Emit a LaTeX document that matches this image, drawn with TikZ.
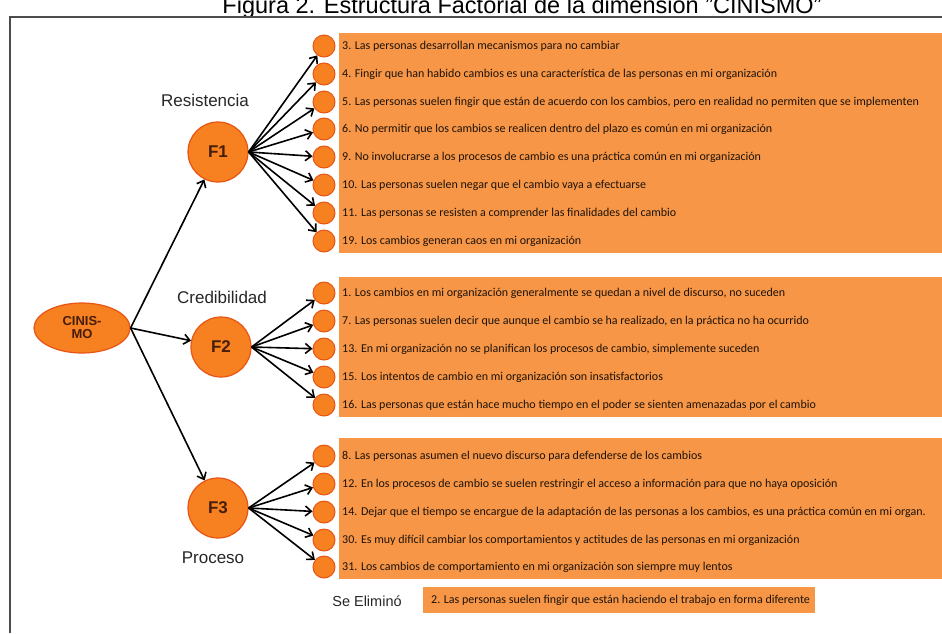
\documentclass[tikz,border=0pt]{standalone}
\usepackage{fontspec}
\setmainfont{Liberation Sans}
\newfontfamily\itemfont{Carlito}
\usetikzlibrary{arrows.meta, positioning, shapes.geometric}
\definecolor{boxfill}{RGB}{247,150,70}
\definecolor{circfill}{RGB}{247,128,32}
\definecolor{circdraw}{RGB}{232,84,20}
\definecolor{nodetext}{RGB}{70,30,10}

\begin{document}
\begin{tikzpicture}[x=1pt, y=-1pt,
    factor/.style={circle, draw=circdraw, line width=1.2pt, fill=circfill, minimum size=60pt, inner sep=0pt, font=\fontsize{17}{17}\selectfont\bfseries, text=nodetext},
    itemdot/.style={circle, draw=circdraw, line width=1pt, fill=circfill, minimum size=22pt, inner sep=0pt},
    itemtext/.style={anchor=west, inner sep=0pt, font=\itemfont\fontsize{12}{12}\selectfont, text=black!85!brown},
    factorname/.style={font=\fontsize{17}{17}\selectfont, text=black!85},
    grpbox/.style={fill=boxfill},
    line/.style={draw, -{Straight Barb[length=6pt, width=10pt, line width=1.6pt]}, line width=1.6pt}
]
    \useasboundingbox (0,0) rectangle (942,633);
    \node[font=\fontsize{23.5}{23.5}\selectfont, anchor=base] (title) at (522,13) {Figura 2. Estructura Factorial de la dimensión "CINISMO"};
    \draw[line width=1.5pt, black!70] (10,633) -- (10,17) -- (942,17);

    % bloques de items
    \fill[grpbox] (339,33) rectangle (942,253);
    \fill[grpbox] (339,277) rectangle (942,417);
    \fill[grpbox] (339,438) rectangle (942,579);
    \fill[grpbox] (423,587) rectangle (815,613);

    \node[ellipse, draw=circdraw, line width=1.2pt, fill=circfill, minimum width=96pt, minimum height=50pt, inner sep=0pt, align=center, font=\fontsize{13}{13}\selectfont\bfseries, text=nodetext] (cin) at (82,328) {CINIS-\\MO};

    \node[factor] (F1) at (218,152) {F1};
    \node[factor] (F2) at (221,347) {F2};
    \node[factor] (F3) at (218,508) {F3};

    \node[factorname] (res) at (205,100) {Resistencia};
    \node[factorname] (cred) at (222,297) {Credibilidad};
    \node[factorname] (proc) at (213,558) {Proceso};
    \node[font=\fontsize{14.5}{14.5}\selectfont, text=black!85] (elim) at (367,601) {Se Eliminó};

    \foreach \n/\y/\txt in {
        3/46/{3. Las personas desarrollan mecanismos para no cambiar},
        4/74/{4. Fingir que han habido cambios es una característica de las personas en mi organización},
        5/102/{5. Las personas suelen fingir que están de acuerdo con los cambios, pero en realidad no permiten que se implementen},
        6/129/{6. No permitir que los cambios se realicen dentro del plazo es común en mi organización},
        9/157/{9. No involucrarse a los procesos de cambio es una práctica común en mi organización},
        10/185/{10. Las personas suelen negar que el cambio vaya a efectuarse},
        11/213/{11. Las personas se resisten a comprender las finalidades del cambio},
        19/241/{19. Los cambios generan caos en mi organización},
        1/293/{1. Los cambios en mi organización generalmente se quedan a nivel de discurso, no suceden},
        7/321/{7. Las personas suelen decir que aunque el cambio se ha realizado, en la práctica no ha ocurrido},
        13/349/{13. En mi organización no se planifican los procesos de cambio, simplemente suceden},
        15/377/{15. Los intentos de cambio en mi organización son insatisfactorios},
        16/405/{16. Las personas que están hace mucho tiempo en el poder se sienten amenazadas por el cambio},
        8/456/{8. Las personas asumen el nuevo discurso para defenderse de los cambios},
        12/484/{12. En los procesos de cambio se suelen restringir el acceso a información para que no haya oposición},
        14/512/{14. Dejar que el tiempo se encargue de la adaptación de las personas a los cambios, es una práctica común en mi organ.},
        30/540/{30. Es muy difícil cambiar los comportamientos y actitudes de las personas en mi organización},
        31/567/{31. Los cambios de comportamiento en mi organización son siempre muy lentos}}
    {
        \node[itemdot] (q\n) at (324,\y) {};
        \node[itemtext] (t\n) at (342,\y) {\txt};
    }
    \node[itemtext] (t2) at (431,600) {2. Las personas suelen fingir que están haciendo el trabajo en forma diferente};

    \path[line] (cin.east) -- (F1);
    \path[line] (cin.east) -- (F2);
    \path[line] (cin.east) -- (F3);
    \foreach \n in {3,4,5,6,9,10,11,19}
        \path[line] (F1.east) -- (q\n);
    \foreach \n in {1,7,13,15,16}
        \path[line] (F2.east) -- (q\n);
    \foreach \n in {8,12,14,30,31}
        \path[line] (F3.east) -- (q\n);
\end{tikzpicture}
\end{document}
